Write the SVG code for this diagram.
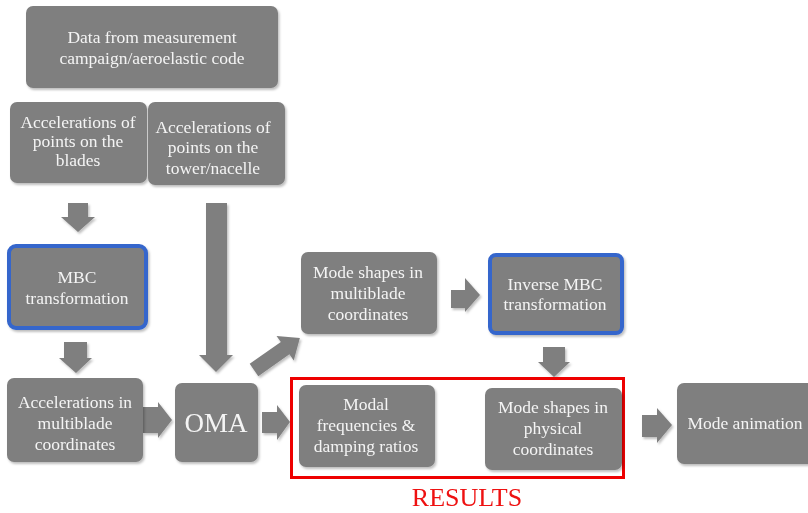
<svg xmlns="http://www.w3.org/2000/svg" width="808" height="513" viewBox="0 0 808 513">
  <style>
    .box { fill: #7f7f7f; }
    .blue { fill: #7f7f7f; stroke: #3566cc; stroke-width: 4; }
    .lbl { font-family: "Liberation Serif", "Times New Roman", serif; font-size: 17.5px; fill: #f4f4f4; text-anchor: middle; }
    .big { font-size: 27px; }
    .arrow { fill: #7f7f7f; }
    .res { font-family: "Liberation Serif", "Times New Roman", serif; font-size: 26px; fill: #ee1111; text-anchor: middle; }
  </style>
  <defs>
    <filter id="sh" x="-10%" y="-10%" width="125%" height="125%">
      <feDropShadow dx="1.5" dy="2" stdDeviation="1.2" flood-color="#000" flood-opacity="0.25"/>
    </filter>
  </defs>
  <rect width="808" height="513" fill="#ffffff"/>

  <!-- connectors: block arrows -->
  <g id="connectors" filter="url(#sh)">
    <polygon class="arrow" points="68,203 88,203 88,217 95,217 78,232 61,217 68,217"/>
    <polygon class="arrow" points="206,203 227,203 227,355 233,355 216,372 199,355 206,355"/>
    <polygon class="arrow" points="64,342 87,342 87,358 92,358 76,373 59,358 64,358"/>
    <polygon class="arrow" points="143,407 158,407 158,402 172,420 158,438 158,433 143,433"/>
    <polygon class="arrow" transform="translate(254,370) rotate(-35)" points="0,-7.5 38,-7.5 38,-15 56,0 38,15 38,7.5 0,7.5"/>
    <polygon class="arrow" points="262,412 277,412 277,405 290,422 277,440 277,433 262,433"/>
    <polygon class="arrow" points="451,290 465,290 465,278 480,295 465,312 465,308 451,308"/>
    <polygon class="arrow" points="543,347 565,347 565,362 570,362 554,377 538,362 543,362"/>
    <polygon class="arrow" points="642,415 657,415 657,408 672,425 657,443 657,437 642,437"/>
  </g>

  <g id="n-data" filter="url(#sh)">
    <rect class="box" x="26" y="6" width="252" height="82" rx="7"/>
    <text class="lbl" x="152" y="43">Data from measurement</text>
    <text class="lbl" x="152" y="64">campaign/aeroelastic code</text>
  </g>

  <g id="n-blades" filter="url(#sh)">
    <rect class="box" x="10" y="102" width="137" height="81" rx="7"/>
    <text class="lbl" x="78" y="128">Accelerations of</text>
    <text class="lbl" x="78" y="147">points on the</text>
    <text class="lbl" x="78" y="166">blades</text>
  </g>

  <g id="n-tower" filter="url(#sh)">
    <rect class="box" x="148" y="102" width="137" height="83" rx="7"/>
    <text class="lbl" x="213" y="133">Accelerations of</text>
    <text class="lbl" x="213" y="153">points on the</text>
    <text class="lbl" x="213" y="174">tower/nacelle</text>
  </g>

  <g id="n-mbc" filter="url(#sh)">
    <rect class="blue" x="9" y="246" width="137" height="82" rx="7"/>
    <text class="lbl" x="77" y="283">MBC</text>
    <text class="lbl" x="77" y="304">transformation</text>
  </g>

  <g id="n-accmb" filter="url(#sh)">
    <rect class="box" x="7" y="378" width="136" height="84" rx="7"/>
    <text class="lbl" x="75" y="408">Accelerations in</text>
    <text class="lbl" x="75" y="429">multiblade</text>
    <text class="lbl" x="75" y="450">coordinates</text>
  </g>

  <g id="n-oma" filter="url(#sh)">
    <rect class="box" x="175" y="383" width="83" height="79" rx="7"/>
    <text class="lbl big" x="216" y="432">OMA</text>
  </g>

  <g id="n-modemb" filter="url(#sh)">
    <rect class="box" x="301" y="252" width="136" height="82" rx="7"/>
    <text class="lbl" x="368" y="278">Mode shapes in</text>
    <text class="lbl" x="368" y="299">multiblade</text>
    <text class="lbl" x="368" y="320">coordinates</text>
  </g>

  <g id="n-invmbc" filter="url(#sh)">
    <rect class="blue" x="490" y="255" width="132" height="78" rx="6"/>
    <text class="lbl" x="555" y="290">Inverse MBC</text>
    <text class="lbl" x="555" y="310">transformation</text>
  </g>

  <g id="n-results">
    <rect x="291.5" y="378.5" width="332" height="99" fill="none" stroke="#ee0000" stroke-width="3"/>
    <text class="res" x="467" y="506">RESULTS</text>
  </g>

  <g id="n-modal" filter="url(#sh)">
    <rect class="box" x="299" y="385" width="136" height="82" rx="7"/>
    <text class="lbl" x="366" y="410">Modal</text>
    <text class="lbl" x="366" y="431">frequencies &amp;</text>
    <text class="lbl" x="366" y="452">damping ratios</text>
  </g>

  <g id="n-modephys" filter="url(#sh)">
    <rect class="box" x="485" y="388" width="137" height="82" rx="7"/>
    <text class="lbl" x="553" y="413">Mode shapes in</text>
    <text class="lbl" x="553" y="434">physical</text>
    <text class="lbl" x="553" y="455">coordinates</text>
  </g>

  <g id="n-anim" filter="url(#sh)">
    <rect class="box" x="677" y="383" width="140" height="81" rx="7"/>
    <text class="lbl" x="745" y="429">Mode animation</text>
  </g>
</svg>
